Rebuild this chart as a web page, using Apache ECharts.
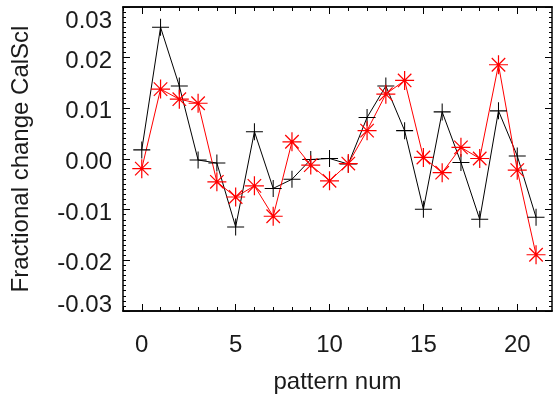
<!DOCTYPE html>
<html>
<head>
<meta charset="utf-8">
<script src="https://cdn.jsdelivr.net/npm/echarts@6/dist/echarts.min.js"></script>
<style>
html,body{margin:0;padding:0;background:#fff;}
#c{width:554px;height:407px;}
</style>
</head>
<body>
<div id="c"></div>
<script>
// pattern numbers
var patternNum = [0,1,2,3,4,5,6,7,8,9,10,11,12,13,14,15,16,17,18,19,20,21];
// black (plus) series
var seriesBlack = [0.0018, 0.0260, 0.0144, -0.0002, -0.0008, -0.0134, 0.0054, -0.0058, -0.0040, -0.0001, 0.0001, -0.0010, 0.0082, 0.0144, 0.0056, -0.0099, 0.0093, -0.0007, -0.0119, 0.0095, 0.0006, -0.0115];
// red (asterisk) series
var seriesRed = [-0.0019, 0.0138, 0.0118, 0.0110, -0.0045, -0.0075, -0.0053, -0.0113, 0.0034, -0.0012, -0.0043, -0.0009, 0.0056, 0.0128, 0.0155, 0.0003, -0.0027, 0.0023, 0.0001, 0.0186, -0.0022, -0.0189];
// axis ticks
var xMajorTicks = [0,5,10,15,20];
var xMinorTicks = [-1,0,1,2,3,4,5,6,7,8,9,10,11,12,13,14,15,16,17,18,19,20,21];
var yTicks = [-0.03,-0.02,-0.01,0.00,0.01,0.02,0.03];

var FONT = 'Liberation Sans';
var TXT = '#1a1a1a';

function pairs(ys){ return patternNum.map(function(x,i){ return [x, ys[i]]; }); }

var plusPath = 'path://M0,47H100V53H0Z M47,0H53V100H47Z';
var starPath = 'path://M0,46.8H100V53.2H0Z M46.8,0H53.2V100H46.8Z M12.34,16.86L16.86,12.34L87.66,83.14L83.14,87.66Z M83.14,12.34L87.66,16.86L16.86,87.66L12.34,83.14Z';

var axisLineStyle = {show:true, onZero:false, lineStyle:{color:'#000', width:1.5}};

function xAxisDef(pos, major, labels){
  var a = {
    type:'value', position:pos, min:-1, max:21.85,
    axisLine: axisLineStyle,
    splitLine:{show:false},
    axisTick:{show:true, inside:true, length: major?7:4, customValues: major?xMajorTicks:xMinorTicks, lineStyle:{color:'#000', width:1}},
    axisLabel:{show:labels}
  };
  if (labels) {
    a.axisLabel = {show:true, customValues:xMajorTicks, margin:22, color:TXT, fontFamily:FONT, fontSize:24};
    a.name = 'pattern num';
    a.nameLocation = 'middle';
    a.nameGap = 59;
    a.nameTextStyle = {color:TXT, fontFamily:FONT, fontSize:24};
  }
  return a;
}

function yAxisDef(pos, labels){
  var a = {
    type:'value', position:pos, min:-0.03, max:0.03, interval:0.01,
    axisLine: axisLineStyle,
    splitLine:{show:false},
    minorSplitLine:{show:false},
    axisTick:{show:true, inside:true, length:7, lineStyle:{color:'#000', width:1}},
    minorTick:{show:true, splitNumber:10, length:3, lineStyle:{color:'#000', width:1}},
    axisLabel:{show:false}
  };
  if (labels) {
    a.axisLabel = {
      show:true, margin:11, color:TXT, fontFamily:FONT, fontSize:24,
      formatter:function(v){
        var s = v.toFixed(2);
        if (s === '-0.00') s = '0.00';
        if (Math.abs(v-0.03) < 1e-9) return '{t|' + s + '}';
        if (Math.abs(v+0.03) < 1e-9) return '{b|' + s + '}';
        return '{m|' + s + '}';
      },
      rich:{
        t:{padding:[28,0,0,0], color:TXT, fontFamily:FONT, fontSize:24},
        b:{padding:[0,0,12,0], color:TXT, fontFamily:FONT, fontSize:24},
        m:{padding:[7,0,0,0], color:TXT, fontFamily:FONT, fontSize:24}
      }
    };
    a.name = 'Fractional change CalScl';
    a.nameLocation = 'middle';
    a.nameRotate = 90;
    a.nameGap = 90;
    a.nameTextStyle = {color:TXT, fontFamily:FONT, fontSize:24};
  }
  return a;
}

var chart = echarts.init(document.getElementById('c'), null, {renderer:'canvas'});
chart.setOption({
  animation:false,
  backgroundColor:'#fff',
  grid:{left:123, right:2, top:7, bottom:96, containLabel:false},
  xAxis:[
    xAxisDef('bottom', false, false),
    xAxisDef('bottom', true, true),
    xAxisDef('top', false, false),
    xAxisDef('top', true, false)
  ],
  yAxis:[
    yAxisDef('left', true),
    yAxisDef('right', false)
  ],
  series:[
    {
      type:'line', xAxisIndex:1, yAxisIndex:0,
      data:pairs(seriesBlack),
      symbol:plusPath, symbolSize:17,
      itemStyle:{color:'#000'},
      lineStyle:{color:'#000', width:1},
      showAllSymbol:true, clip:false
    },
    {
      type:'line', xAxisIndex:1, yAxisIndex:0,
      data:pairs(seriesRed),
      symbol:starPath, symbolSize:19,
      itemStyle:{color:'#ff0000'},
      lineStyle:{color:'#ff0000', width:1},
      showAllSymbol:true, clip:false
    }
  ]
});
</script>
</body>
</html>
